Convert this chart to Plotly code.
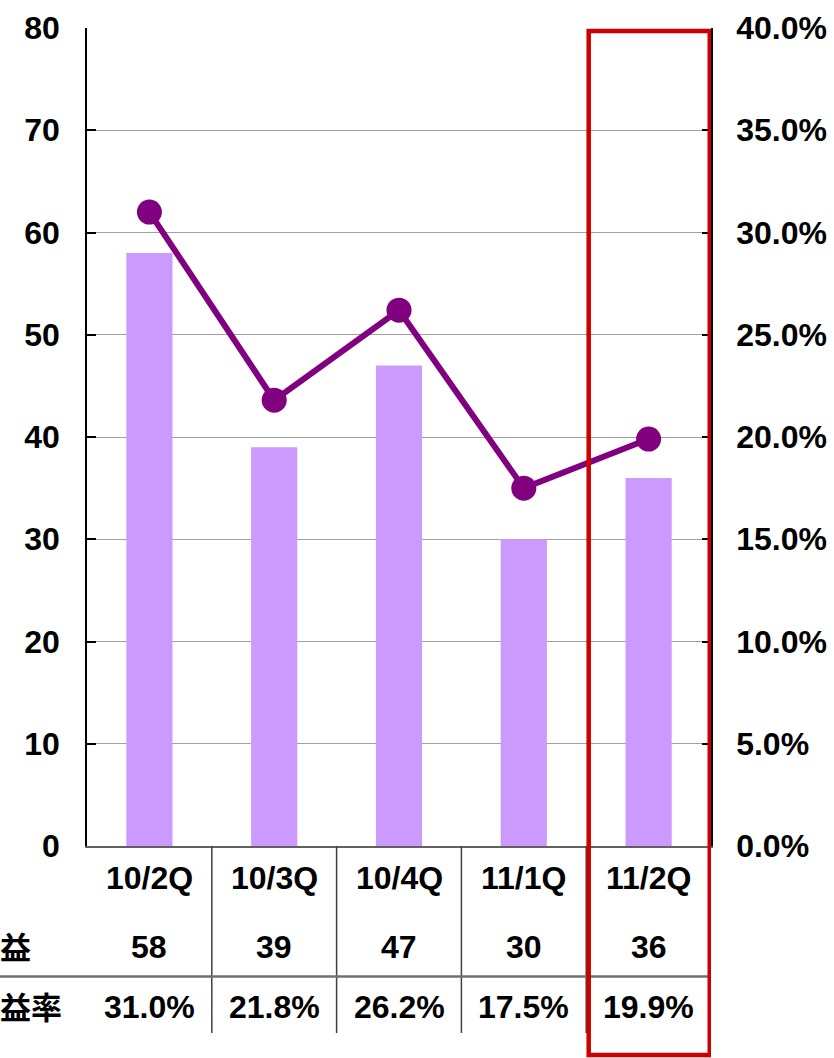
import plotly.graph_objects as go

categories = ["10/2Q", "10/3Q", "10/4Q", "11/1Q", "11/2Q"]
profit = [58, 39, 47, 30, 36]
margin_rate = [0.310, 0.218, 0.262, 0.175, 0.199]
row_labels = ["益", "益率"]
left_ticks = [0, 10, 20, 30, 40, 50, 60, 70, 80]

W, H = 834, 1058
L, R, T, B = 87, 123, 28, 212
PH = H - T - B
PW = W - L - R

def py(p):  # pixel y -> paper y
    return (H - B - p) / PH

def px(p):  # pixel x -> paper x
    return (p - L) / PW

FONT = "Liberation Sans, Arial, Noto Sans CJK JP, sans-serif"
CJK = "Noto Sans CJK JP, sans-serif"

fig = go.Figure()
fig.add_trace(go.Bar(
    x=categories, y=profit, width=0.37, marker_color="#CC99FF",
    marker_line_width=0, yaxis="y", showlegend=False,
))
fig.add_trace(go.Scatter(
    x=categories, y=margin_rate, mode="lines+markers", yaxis="y2",
    line=dict(color="#800080", width=6),
    marker=dict(color="#800080", size=25),
    showlegend=False,
))

annotations = []
tick_font = dict(family=FONT, size=32, color="black", weight="bold")
for c, v, r in zip(categories, profit, margin_rate):
    annotations.append(dict(x=c, xref="x", y=py(878), yref="paper", text=c,
                            showarrow=False, font=tick_font, xanchor="center", yanchor="middle"))
    annotations.append(dict(x=c, xref="x", y=py(947), yref="paper", text=str(v),
                            showarrow=False, font=tick_font, xanchor="center", yanchor="middle"))
    annotations.append(dict(x=c, xref="x", y=py(1007), yref="paper", text=f"{r*100:.1f}%",
                            showarrow=False, font=tick_font, xanchor="center", yanchor="middle"))
cjk_font = dict(family=CJK, size=31, color="black", weight="bold")
annotations.append(dict(x=px(-2), xref="paper", y=py(945), yref="paper", text=row_labels[0],
                        showarrow=False, font=cjk_font, xanchor="left", yanchor="middle"))
annotations.append(dict(x=px(-2), xref="paper", y=py(1005), yref="paper", text=row_labels[1],
                        showarrow=False, font=cjk_font, xanchor="left", yanchor="middle"))

shapes = []
for b in [0.5, 1.5, 2.5, 3.5]:
    shapes.append(dict(type="line", xref="x", yref="paper", x0=b, x1=b, y0=0, y1=py(1033),
                       line=dict(color="#404040", width=1.5), layer="above"))
shapes.append(dict(type="line", xref="paper", yref="paper", x0=px(0), x1=px(710),
                   y0=py(976.5), y1=py(976.5), line=dict(color="#707070", width=2.5), layer="above"))
shapes.append(dict(type="rect", xref="x", yref="paper", x0=3.52, x1=4.49,
                   y0=py(1055), y1=py(31), line=dict(color="#CC0000", width=4.5),
                   fillcolor="rgba(0,0,0,0)", layer="above"))

fig.update_layout(
    width=W, height=H,
    margin=dict(l=L, r=R, t=T, b=B, autoexpand=False),
    paper_bgcolor="white", plot_bgcolor="white",
    xaxis=dict(type="category", range=[-0.5, 4.5], showticklabels=False, ticks="",
               showline=True, linecolor="#606060", linewidth=2, showgrid=False,
               zeroline=False, automargin=False, mirror=False),
    yaxis=dict(range=[0, 80], tickvals=left_ticks, showgrid=True, gridcolor="#A0A0A0",
               gridwidth=1, showline=True, linecolor="black", linewidth=1.5,
               ticks="inside", ticklen=9, tickcolor="black", tickwidth=1.5,
               tickfont=tick_font, zeroline=False, automargin=False,
               ticklabelstandoff=19),
    yaxis2=dict(range=[0, 0.4], dtick=0.05, tickformat=".1%", overlaying="y", side="right",
                showgrid=False, showline=True, linecolor="black", linewidth=1.5,
                ticks="inside", ticklen=9, tickcolor="black", tickwidth=1.5,
                tickfont=tick_font, zeroline=False, automargin=False,
                ticklabelstandoff=17),
    annotations=annotations,
    shapes=shapes,
)

fig.write_html("out.html", config={"displayModeBar": False},
               post_script="document.body.style.margin='0';document.body.style.overflow='hidden';")
